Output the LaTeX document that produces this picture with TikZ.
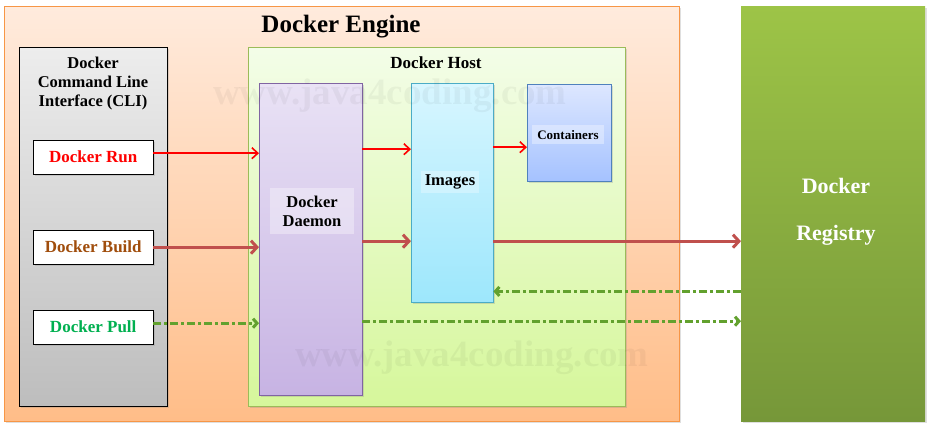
\documentclass[tikz,border=0pt]{standalone}
\usepackage{fontspec}
\setmainfont{Liberation Serif}
\usepackage{tikz}
\usetikzlibrary{arrows.meta,positioning,shadows}
\definecolor{engineline}{HTML}{F79646}
\definecolor{enginetop}{HTML}{FFEBDD}
\definecolor{enginebot}{HTML}{FFBD88}
\definecolor{clitop}{HTML}{EDEDED}
\definecolor{clibot}{HTML}{BDBDBD}
\definecolor{hostline}{HTML}{9BBB59}
\definecolor{hosttop}{HTML}{F3FDE8}
\definecolor{hostbot}{HTML}{D6F79B}
\definecolor{daemonline}{HTML}{8064A2}
\definecolor{daemontop}{HTML}{E9E2F5}
\definecolor{daemonbot}{HTML}{C7B3E3}
\definecolor{imageline}{HTML}{4BACC6}
\definecolor{imagetop}{HTML}{D8F6FF}
\definecolor{imagebot}{HTML}{9DE7FC}
\definecolor{contline}{HTML}{4F81BD}
\definecolor{conttop}{HTML}{DDE7FF}
\definecolor{contbot}{HTML}{A5C2FF}
\definecolor{regtop}{HTML}{9DC447}
\definecolor{regbot}{HTML}{769739}
\definecolor{runred}{HTML}{FF0000}
\definecolor{buildbrown}{HTML}{A04D0C}
\definecolor{pullgreen}{HTML}{00B050}
\definecolor{buildline}{HTML}{C0504D}
\definecolor{pullline}{HTML}{62A12E}
\tikzset{panel/.style={draw,rectangle,inner sep=0pt,anchor=north west,
    drop shadow={shadow xshift=2pt,shadow yshift=-2pt,opacity=0.25}}}
\tikzset{cmdbox/.style={panel,fill=white,draw=black,minimum width=120pt,minimum height=34pt,
    font=\fontsize{17}{19}\selectfont\bfseries}}
\tikzset{watermark/.style={text=black,opacity=0.045,font=\fontsize{37}{39}\selectfont\bfseries}}
\tikzset{runline/.style={->,draw=runred,line width=1.6pt,>={Straight Barb[length=6pt,width=11pt]}},
    buildlinestyle/.style={->,draw=buildline,line width=3pt,>={Straight Barb[length=6pt,width=13pt]}},
    pulllinestyle/.style={->,draw=pullline,line width=3pt,
      dash pattern=on 8pt off 3pt on 3pt off 3pt,>={Straight Barb[length=4pt,width=9pt]}}}

\begin{document}
\begin{tikzpicture}[x=1pt, y=-1pt]
\useasboundingbox (0,0) rectangle (935,433);
    % outer boxes
    \node[panel,draw=engineline,top color=enginetop,bottom color=enginebot,
      minimum width=675pt,minimum height=415pt] (engine) at (4,6) {};
    \node[panel,draw=none,top color=regtop,bottom color=regbot,
      minimum width=184pt,minimum height=415pt] (registry) at (741,6) {};
    \node[font=\fontsize{25}{27}\selectfont\bfseries] (enginetitle) at (341,27) {Docker Engine};

    % command line interface
    \node[panel,draw=black,top color=clitop,bottom color=clibot,
      minimum width=148pt,minimum height=359pt] (cli) at (19,47) {};
    \node[align=center,font=\fontsize{16.5}{19}\selectfont\bfseries] (clititle) at (93,84)
      {Docker\\Command Line\\Interface (CLI)};
    \node[cmdbox,text=runred] (run) at (33,140) {Docker Run};
    \node[cmdbox,text=buildbrown] (build) at (33,230) {Docker Build};
    \node[cmdbox,text=pullgreen] (pull) at (33,310) {Docker Pull};

    % docker host
    \node[panel,draw=hostline,top color=hosttop,bottom color=hostbot,
      minimum width=377pt,minimum height=359pt] (host) at (248,47) {};
    \node[font=\fontsize{17}{19}\selectfont\bfseries] (hosttitle) at (436,63) {Docker Host};
    \node[panel,draw=daemonline,top color=daemontop,bottom color=daemonbot,
      minimum width=103pt,minimum height=312pt] (daemon) at (259,83) {};
    \node[panel,draw=imageline,top color=imagetop,bottom color=imagebot,
      minimum width=82pt,minimum height=219pt] (images) at (411,83) {};
    \node[panel,draw=contline,top color=conttop,bottom color=contbot,
      minimum width=84pt,minimum height=97pt] (containers) at (527,84) {};

    \node[fill=white,fill opacity=0.35,text opacity=1,align=center,minimum width=84pt,minimum height=46pt,
      font=\fontsize{16.5}{19}\selectfont\bfseries] (daemonlabel) at (312,211) {Docker\\Daemon};
    \node[fill=white,fill opacity=0.3,text opacity=1,minimum width=58pt,minimum height=22pt,
      font=\fontsize{16.5}{19}\selectfont\bfseries] (imageslabel) at (450,182) {Images};
    \node[fill=white,fill opacity=0.35,text opacity=1,minimum width=72pt,minimum height=19pt,
      font=\fontsize{13}{15}\selectfont\bfseries] (contlabel) at (568,135) {Containers};

    \node[watermark] (mark1) at (390,96) {www.java4coding.com};
    \node[watermark] (mark2) at (472,358) {www.java4coding.com};

    \node[align=center,text=white,font=\fontsize{22}{47}\selectfont\bfseries] (reglabel) at (836,212)
      {Docker\\Registry};

    % run
    \draw[runline] ([yshift=4pt]run.east) -- ([yshift=4pt]run.east -| daemon.west);
    \draw[runline] ([yshift=8pt]run.east -| daemon.east) -- ([yshift=8pt]run.east -| images.west);
    \draw[runline] ([yshift=10pt]run.east -| images.east) -- ([yshift=10pt]run.east -| containers.west);
    % build
    \draw[buildlinestyle] (build.east) -- (build.east -| daemon.west);
    \draw[buildlinestyle] ([yshift=6pt]build.east -| daemon.east) -- ([yshift=6pt]build.east -| images.west);
    \draw[buildlinestyle] ([yshift=6pt]build.east -| images.east) -- ([yshift=6pt]build.east -| registry.west);
    % pull
    \draw[pulllinestyle] ([yshift=4pt]pull.east) -- ([yshift=4pt]pull.east -| daemon.west);
    \draw[pulllinestyle] ([yshift=6pt]pull.east -| daemon.east) -- ([yshift=6pt]pull.east -| registry.west);
    \draw[pulllinestyle] ([yshift=11pt]images.south -| registry.west) -- ([yshift=11pt]images.south east);
\end{tikzpicture}
\end{document}
